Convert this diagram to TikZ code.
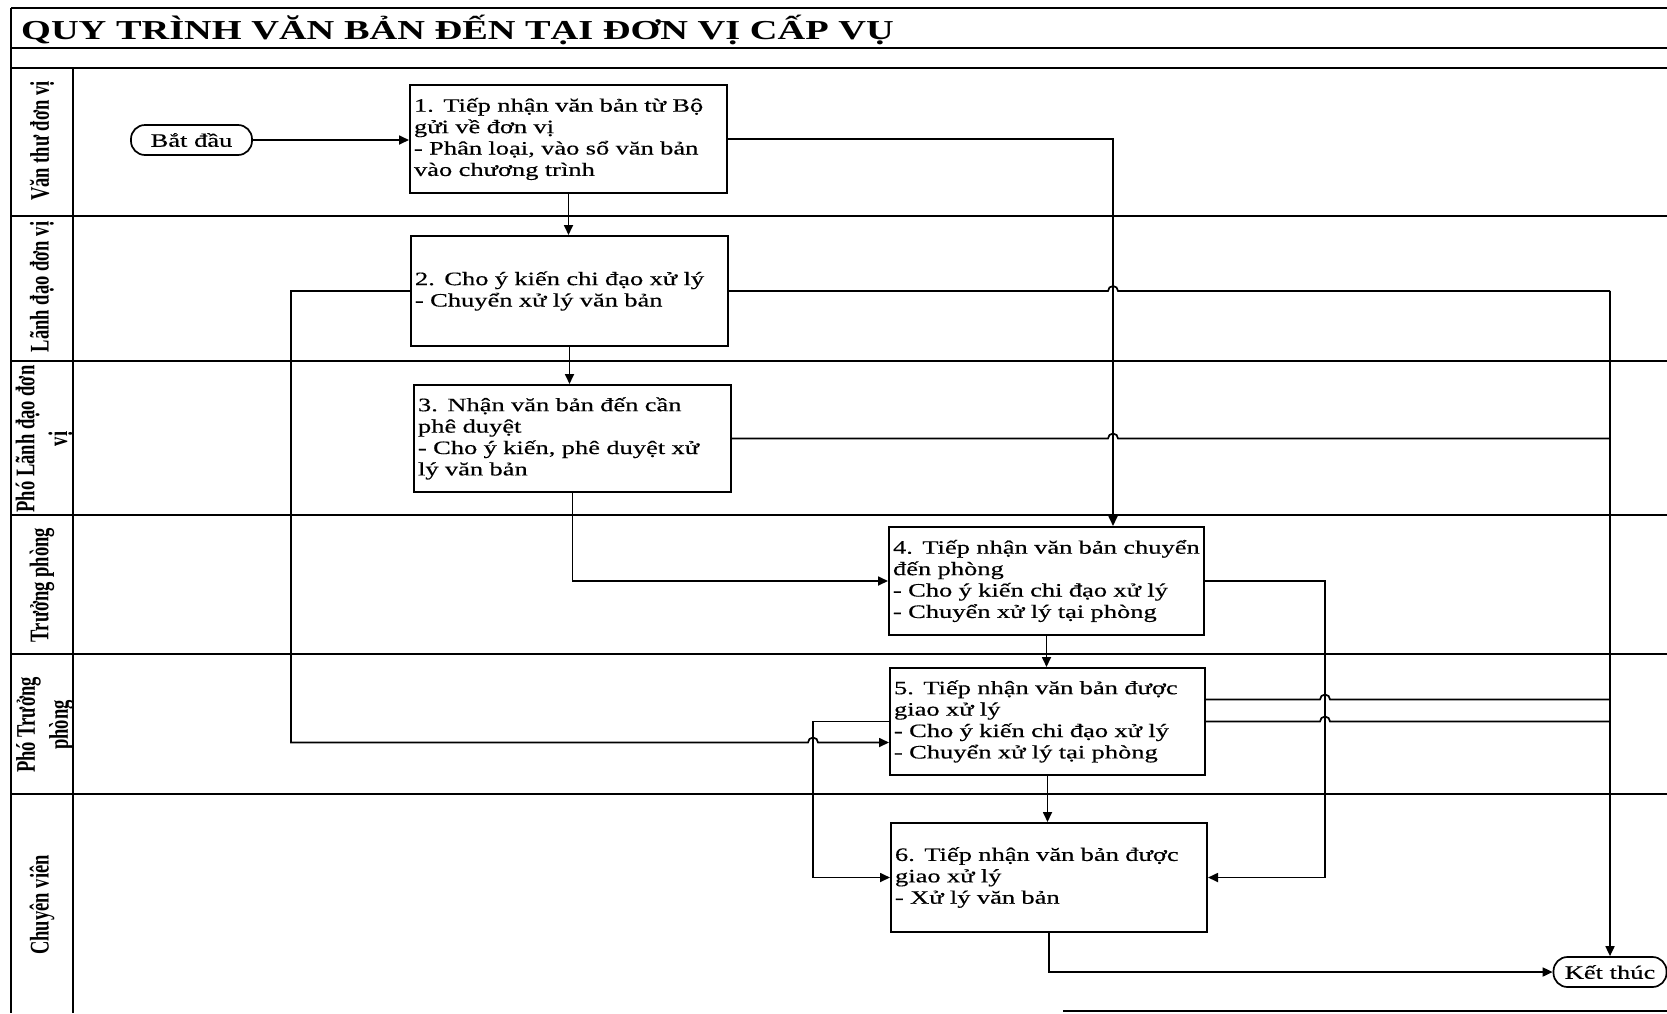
\documentclass[tikz,border=0pt]{standalone}
\usepackage{fontspec}
\setmainfont{Liberation Serif}[FakeStretch=1.4,FakeBold=0.4]
\newfontfamily\lanefont{Liberation Serif}[FakeStretch=0.69]
\newfontfamily\titlefont{Liberation Serif}[FakeStretch=1.4]
\usetikzlibrary{arrows.meta,calc}
\newcommand\boxline[1]{\mbox{#1}}
\begin{document}
\begin{tikzpicture}[x=1bp,y=-1bp,
  every node/.style={inner sep=0pt},
  frame/.style={line width=1.9bp},
  conn/.style={line width=1.7bp},
  arr/.style={conn,-{Triangle[length=10bp,width=9bp]}},
  stepbox/.style={draw,line width=2bp,align=left,inner xsep=3bp,inner ysep=0pt,
    font=\fontsize{19}{21.5}\selectfont},
  term/.style={draw,line width=1.7bp,rounded corners=14bp,minimum height=30bp,
    font=\fontsize{19}{21.5}\selectfont},
  lane/.style={rotate=90,align=center,font=\lanefont\bfseries\fontsize{27}{33}\selectfont},
]
\useasboundingbox[fill=white] (0,0) rectangle (1667,1013);

% frame
\draw[frame] (11,8) -- (1667,8);
\draw[frame] (11,48) -- (1667,48);
\draw[frame] (11,68) -- (1667,68);
\foreach \yy in {216,361,515,654,794} \draw[frame] (11,\yy) -- (1667,\yy);
\draw[frame] (11,8) -- (11,1013);
\draw[frame] (73,68) -- (73,1013);
\draw[frame] (1063,1011) -- (1667,1011);

% title
\node[anchor=base west,font=\titlefont\bfseries\fontsize{27.5}{30}\selectfont] (title) at (21,39)
  {QUY TRÌNH VĂN BẢN ĐẾN TẠI ĐƠN VỊ CẤP VỤ};

% lane labels
\node[lane] (l1) at (42,141) {Văn thư đơn vị};
\node[lane] (l2) at (42,287) {Lãnh đạo đơn vị};
\node[lane] (l3) at (44,439) {Phó Lãnh đạo đơn\\vị};
\node[lane] (l4) at (42,585) {Trưởng phòng};
\node[lane] (l5) at (45,725) {Phó Trưởng\\phòng};
\node[lane] (l6) at (42,905) {Chuyên viên};

% terminals
\node[term,minimum width=121bp] (start) at (191.5,140) {Bắt đầu};
\node[term,minimum width=113bp] (finish) at (1610,972) {Kết thúc};

% steps
\node[stepbox,minimum width=317bp,minimum height=108bp,text width=309bp] (b1) at (568.5,139)
  {\boxline{1. Tiếp nhận văn bản từ Bộ}\\\boxline{gửi về đơn vị}\\\boxline{- Phân loại, vào sổ văn bản}\\\boxline{vào chương trình}};
\node[stepbox,minimum width=317bp,minimum height=110bp,text width=309bp] (b2) at (569.5,291)
  {\boxline{2. Cho ý kiến chi đạo xử lý}\\\boxline{- Chuyển xử lý văn bản}};
\node[stepbox,minimum width=317bp,minimum height=107bp,text width=309bp] (b3) at (572.5,438.5)
  {\boxline{3. Nhận văn bản đến cần}\\\boxline{phê duyệt}\\\boxline{- Cho ý kiến, phê duyệt xử}\\\boxline{lý văn bản}};
\node[stepbox,minimum width=315bp,minimum height=108bp,text width=307bp] (b4) at (1046.5,581)
  {\boxline{4. Tiếp nhận văn bản chuyển}\\\boxline{đến phòng}\\\boxline{- Cho ý kiến chi đạo xử lý}\\\boxline{- Chuyển xử lý tại phòng}};
\node[stepbox,minimum width=315bp,minimum height=107bp,text width=307bp] (b5) at (1047.5,721.5)
  {\boxline{5. Tiếp nhận văn bản được}\\\boxline{giao xử lý}\\\boxline{- Cho ý kiến chi đạo xử lý}\\\boxline{- Chuyển xử lý tại phòng}};
\node[stepbox,minimum width=316bp,minimum height=109bp,text width=308bp] (b6) at (1049,877.5)
  {\boxline{6. Tiếp nhận văn bản được}\\\boxline{giao xử lý}\\\boxline{- Xử lý văn bản}};

% route coordinates
\coordinate (vA) at (1113,0);
\coordinate (vR) at (1610,0);
\coordinate (vL) at (291,0);
\coordinate (vM) at (813,0);
\coordinate (vN) at (1325,0);
\coordinate (b5in) at ($(b5.west)+(0,21)$);
\coordinate (b5out) at ($(b5.east)+(0,-22)$);

% connectors
\draw[arr] (start.east) -- (start.east -| b1.west);
\draw[arr] (b1.south) -- (b1.south |- b2.north);
\draw[arr] (b2.south) -- (b2.south |- b3.north);
\draw[arr] (b1.east) -- (b1.east -| vA) -- (vA |- b4.north);
\draw[conn] (b2.east) -- ($(vA |- b2.east)+(-5,0)$) arc[start angle=180,end angle=360,radius=5] -- (vR |- b2.east);
\draw[conn] (b3.east) -- ($(vA |- b3.east)+(-5,0)$) arc[start angle=180,end angle=360,radius=5] -- (vR |- b3.east);
\draw[arr] (vR |- b2.east) -- (vR |- finish.north);
\draw[arr] (b2.west) -- (vL |- b2.west) -- (vL |- b5in) -- ($(vM |- b5in)+(-5,0)$) arc[start angle=180,end angle=360,radius=5] -- (b5in);
\draw[arr] (b3.south) -- (b3.south |- b4.west) -- (b4.west);
\draw[arr] (b4.south) -- (b4.south |- b5.north);
\draw[arr] (b4.east) -- (b4.east -| vN) -- (vN |- b6.east) -- (b6.east);
\draw[arr] (b5.west) -- (b5.west -| vM) -- (vM |- b6.west) -- (b6.west);
\draw[arr] (b5.south) -- (b5.south |- b6.north);
\draw[conn] (b5out) -- ($(vN |- b5out)+(-5,0)$) arc[start angle=180,end angle=360,radius=5] -- (vR |- b5out);
\draw[conn] (b5.east) -- ($(vN |- b5.east)+(-5,0)$) arc[start angle=180,end angle=360,radius=5] -- (vR |- b5.east);
\draw[arr] (b6.south) -- (b6.south |- finish.west) -- (finish.west);
\end{tikzpicture}
\end{document}
